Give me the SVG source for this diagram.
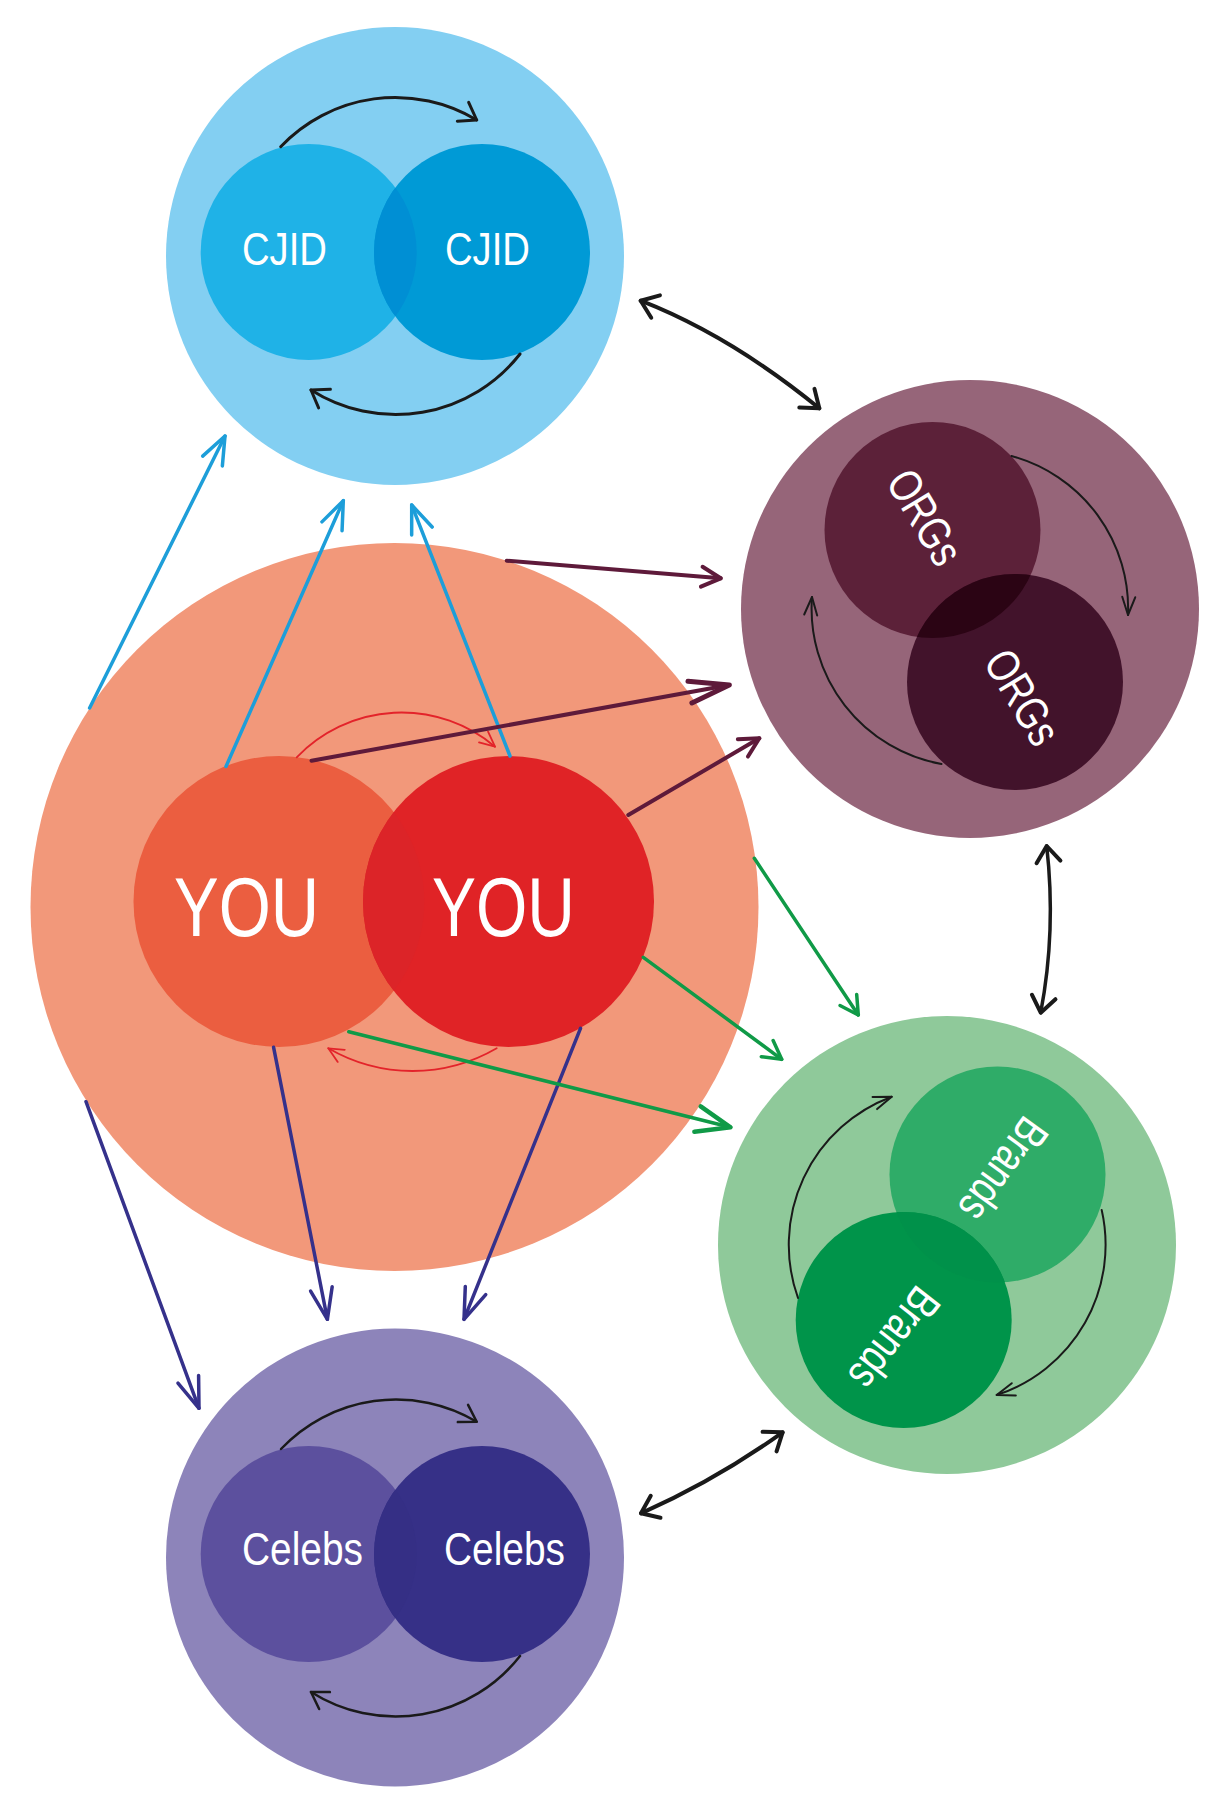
<svg xmlns="http://www.w3.org/2000/svg" width="1221" height="1817" viewBox="0 0 1221 1817">
<defs>
<style>
.lbl{font-family:"Liberation Sans",Arial,sans-serif;fill:#ffffff}
.s{font-size:46.5px}
.you{font-size:84px}
.ln{fill:none;stroke-linecap:round;stroke-linejoin:round}
.blk{stroke:#1a1a1a}
.blue{stroke:#1d9ed9;stroke-width:3.5}
.navy{stroke:#35318b;stroke-width:3.5}
.green{stroke:#109a47;stroke-width:3.5}
.purp{stroke:#5e1a3a;stroke-width:4}
.red{stroke:#e3232a;stroke-width:1.8}
</style>
<clipPath id="cCJIDL"><circle cx="308.7" cy="252" r="108"/></clipPath>
<clipPath id="cYOUL"><circle cx="279" cy="901.5" r="145.5"/></clipPath>
<clipPath id="cORGU"><circle cx="932.5" cy="530" r="108"/></clipPath>
<clipPath id="cBRU"><circle cx="997.5" cy="1174.5" r="108"/></clipPath>
<clipPath id="cCELL"><circle cx="308.7" cy="1554" r="108"/></clipPath>
<marker id="mBlk" markerUnits="userSpaceOnUse" viewBox="-60 -30 70 60" markerWidth="70" markerHeight="60" refX="0" refY="0" orient="auto-start-reverse" overflow="visible"><path d="M-16,-12 L0,0 L-16,12" fill="none" stroke="#1a1a1a" stroke-width="4" stroke-linecap="round" stroke-linejoin="round"/></marker>
<marker id="mArc" markerUnits="userSpaceOnUse" viewBox="-60 -30 70 60" markerWidth="70" markerHeight="60" refX="0" refY="0" orient="auto" overflow="visible"><path d="M-16,-11 L0,0 L-16,11" fill="none" stroke="#1a1a1a" stroke-width="3" stroke-linecap="round" stroke-linejoin="round"/></marker>
<marker id="mArc2" markerUnits="userSpaceOnUse" viewBox="-60 -30 70 60" markerWidth="70" markerHeight="60" refX="0" refY="0" orient="auto" overflow="visible"><path d="M-16,-10 L0,0 L-16,10" fill="none" stroke="#1a1a1a" stroke-width="2.5" stroke-linecap="round" stroke-linejoin="round"/></marker>
<marker id="mThin" markerUnits="userSpaceOnUse" viewBox="-60 -30 70 60" markerWidth="70" markerHeight="60" refX="0" refY="0" orient="auto" overflow="visible"><path d="M-18,-6.5 L0,0 L-18,6.5" fill="none" stroke="#1a1a1a" stroke-width="2" stroke-linecap="round" stroke-linejoin="round"/></marker>
<marker id="mBlue" markerUnits="userSpaceOnUse" viewBox="-60 -30 70 60" markerWidth="70" markerHeight="60" refX="0" refY="0" orient="auto" overflow="visible"><path d="M-28,-11 L0,0 L-28,11" fill="none" stroke="#1d9ed9" stroke-width="3.5" stroke-linecap="round" stroke-linejoin="round"/></marker>
<marker id="mNavy" markerUnits="userSpaceOnUse" viewBox="-60 -30 70 60" markerWidth="70" markerHeight="60" refX="0" refY="0" orient="auto" overflow="visible"><path d="M-31,-11 L0,0 L-31,11" fill="none" stroke="#35318b" stroke-width="3.5" stroke-linecap="round" stroke-linejoin="round"/></marker>
<marker id="mGreen" markerUnits="userSpaceOnUse" viewBox="-60 -30 70 60" markerWidth="70" markerHeight="60" refX="0" refY="0" orient="auto" overflow="visible"><path d="M-18,-10 L0,0 L-18,10" fill="none" stroke="#109a47" stroke-width="3.5" stroke-linecap="round" stroke-linejoin="round"/></marker>
<marker id="mGreenB" markerUnits="userSpaceOnUse" viewBox="-60 -30 70 60" markerWidth="70" markerHeight="60" refX="0" refY="0" orient="auto" overflow="visible"><path d="M-34,-13 L0,0 L-34,13" fill="none" stroke="#109a47" stroke-width="4.5" stroke-linecap="round" stroke-linejoin="round"/></marker>
<marker id="mPurp" markerUnits="userSpaceOnUse" viewBox="-60 -30 70 60" markerWidth="70" markerHeight="60" refX="0" refY="0" orient="auto" overflow="visible"><path d="M-19,-10 L0,0 L-19,10" fill="none" stroke="#5e1a3a" stroke-width="4" stroke-linecap="round" stroke-linejoin="round"/></marker>
<marker id="mPurpB" markerUnits="userSpaceOnUse" viewBox="-60 -30 70 60" markerWidth="70" markerHeight="60" refX="0" refY="0" orient="auto" overflow="visible"><path d="M-40,-11 L0,0 L-40,11" fill="none" stroke="#5e1a3a" stroke-width="5" stroke-linecap="round" stroke-linejoin="round"/></marker>
<marker id="mRed" markerUnits="userSpaceOnUse" viewBox="-60 -30 70 60" markerWidth="70" markerHeight="60" refX="0" refY="0" orient="auto" overflow="visible"><path d="M-15,-7 L0,0 L-15,7" fill="none" stroke="#e3232a" stroke-width="1.8" stroke-linecap="round" stroke-linejoin="round"/></marker>
</defs>
<rect width="1221" height="1817" fill="#ffffff"/>

<g id="node-cjid">
<circle cx="395" cy="256" r="229" fill="#83cff2"/>
<circle cx="308.7" cy="252" r="108" fill="#1fb2e7"/>
<circle cx="482" cy="252" r="108" fill="#009ad6"/>
<circle cx="482" cy="252" r="108" fill="#008fd4" clip-path="url(#cCJIDL)"/>
<text class="lbl s" x="242" y="265" textLength="85" lengthAdjust="spacingAndGlyphs">CJID</text>
<text class="lbl s" x="445" y="265" textLength="85" lengthAdjust="spacingAndGlyphs">CJID</text>
</g>

<g id="node-orgs">
<circle cx="970" cy="609" r="229" fill="#966579"/>
<circle cx="932.5" cy="530" r="108" fill="#5c2139"/>
<circle cx="1015" cy="682" r="108" fill="#42132b"/>
<circle cx="1015" cy="682" r="108" fill="#2b0414" clip-path="url(#cORGU)"/>
<text class="lbl s" transform="translate(925.5,517) rotate(59)" x="0" y="16.6" text-anchor="middle" textLength="102" lengthAdjust="spacingAndGlyphs">ORGs</text>
<text class="lbl s" transform="translate(1023,697) rotate(59)" x="0" y="16.6" text-anchor="middle" textLength="102" lengthAdjust="spacingAndGlyphs">ORGs</text>
</g>

<g id="node-you">
<circle cx="394.5" cy="907" r="364" fill="#f2987a"/>
<circle cx="279" cy="901.5" r="145.5" fill="#eb5e40"/>
<circle cx="508.5" cy="901.5" r="145.5" fill="#e02326"/>
<circle cx="508.5" cy="901.5" r="145.5" fill="#dc2428" clip-path="url(#cYOUL)"/>
<text class="lbl you" x="174" y="936" textLength="145" lengthAdjust="spacingAndGlyphs">YOU</text>
<text class="lbl you" x="432" y="936" textLength="143" lengthAdjust="spacingAndGlyphs">YOU</text>
</g>

<g id="node-brands">
<circle cx="947" cy="1245" r="229" fill="#8fc99a"/>
<circle cx="997.5" cy="1174.5" r="108" fill="#2fac68"/>
<circle cx="903.7" cy="1320" r="108" fill="#00944a"/>
<circle cx="903.7" cy="1320" r="108" fill="#00914a" clip-path="url(#cBRU)"/>
<text class="lbl s" transform="translate(1004,1170) rotate(126)" x="0" y="16.6" text-anchor="middle" textLength="116" lengthAdjust="spacingAndGlyphs">Brands</text>
<text class="lbl s" transform="translate(895,1339) rotate(128)" x="0" y="16.6" text-anchor="middle" textLength="116" lengthAdjust="spacingAndGlyphs">Brands</text>
</g>

<g id="node-celebs">
<circle cx="395" cy="1557.5" r="229" fill="#8d84ba"/>
<circle cx="308.7" cy="1554" r="108" fill="#5c509e"/>
<circle cx="482" cy="1554" r="108" fill="#363087"/>
<circle cx="482" cy="1554" r="108" fill="#352f85" clip-path="url(#cCELL)"/>
<text class="lbl s" x="242" y="1565" textLength="121" lengthAdjust="spacingAndGlyphs">Celebs</text>
<text class="lbl s" x="444" y="1565" textLength="121" lengthAdjust="spacingAndGlyphs">Celebs</text>
</g>

<g id="connectors">
<!-- inner cycle arcs -->
<path class="ln blk" stroke-width="3" d="M280.7,146.7 A158,158 0 0 1 476.7,120" marker-end="url(#mArc)"/>
<path class="ln blk" stroke-width="3" d="M520,354 A158,158 0 0 1 311,390" marker-end="url(#mArc)"/>
<path class="ln blk" stroke-width="2.5" d="M281,1449 A158,158 0 0 1 476.7,1421.7" marker-end="url(#mArc2)"/>
<path class="ln blk" stroke-width="2.5" d="M520,1656 A158,158 0 0 1 311,1692" marker-end="url(#mArc2)"/>
<path class="ln blk" stroke-width="2" d="M1011.5,456 A158,158 0 0 1 1128,615" marker-end="url(#mThin)"/>
<path class="ln blk" stroke-width="2" d="M941.5,764 A158,158 0 0 1 812,597" marker-end="url(#mThin)"/>
<path class="ln blk" stroke-width="2" d="M798,1298 A158,158 0 0 1 891.7,1096.7" marker-end="url(#mThin)"/>
<path class="ln blk" stroke-width="2" d="M1101.7,1210 A158,158 0 0 1 996.7,1395" marker-end="url(#mThin)"/>
<path class="ln red" d="M296.7,757.3 A145,145 0 0 1 495,746.7" marker-end="url(#mRed)"/>
<path class="ln red" d="M496.7,1048.3 A167.5,167.5 0 0 1 328.3,1048.3" marker-end="url(#mRed)"/>
<!-- double arrows between groups -->
<path class="ln blk" stroke-width="4" d="M640.7,300.7 Q730,335.5 819.3,408.3" marker-start="url(#mBlk)" marker-end="url(#mBlk)"/>
<path class="ln blk" stroke-width="3.5" d="M1046.7,846 Q1056.3,930.7 1040.7,1012.7" marker-start="url(#mBlk)" marker-end="url(#mBlk)"/>
<path class="ln blk" stroke-width="4" d="M782.6,1432.3 Q716,1480 641,1513.3" marker-start="url(#mBlk)" marker-end="url(#mBlk)"/>
<!-- blue to CJID -->
<path class="ln blue" d="M89.6,708 L225,436" marker-end="url(#mBlue)"/>
<path class="ln blue" d="M226,766.5 L343.3,500.7" marker-end="url(#mBlue)"/>
<path class="ln blue" d="M510,756 L411.7,505" marker-end="url(#mBlue)"/>
<!-- purple to ORGS -->
<path class="ln purp" d="M506.7,560.7 L720.7,578.3" marker-end="url(#mPurp)"/>
<path class="ln purp" stroke-width="5" d="M311.5,760.7 L729.3,685" marker-end="url(#mPurpB)"/>
<path class="ln purp" d="M628.3,815 L759.3,738.3" marker-end="url(#mPurp)"/>
<!-- navy to Celebs -->
<path class="ln navy" d="M86,1101.7 L199,1408.3" marker-end="url(#mNavy)"/>
<path class="ln navy" d="M273.6,1047.3 L327.4,1319.3" marker-end="url(#mNavy)"/>
<path class="ln navy" d="M580.5,1028.3 L464,1319.3" marker-end="url(#mNavy)"/>
<!-- green to Brands -->
<path class="ln green" d="M754.3,858.3 L858.3,1015" marker-end="url(#mGreen)"/>
<path class="ln green" d="M643.3,957.3 L781.7,1059.3" marker-end="url(#mGreen)"/>
<path class="ln green" stroke-width="4.5" d="M348.8,1031.7 L730.5,1127.3" marker-end="url(#mGreenB)"/>
</g>
</svg>
